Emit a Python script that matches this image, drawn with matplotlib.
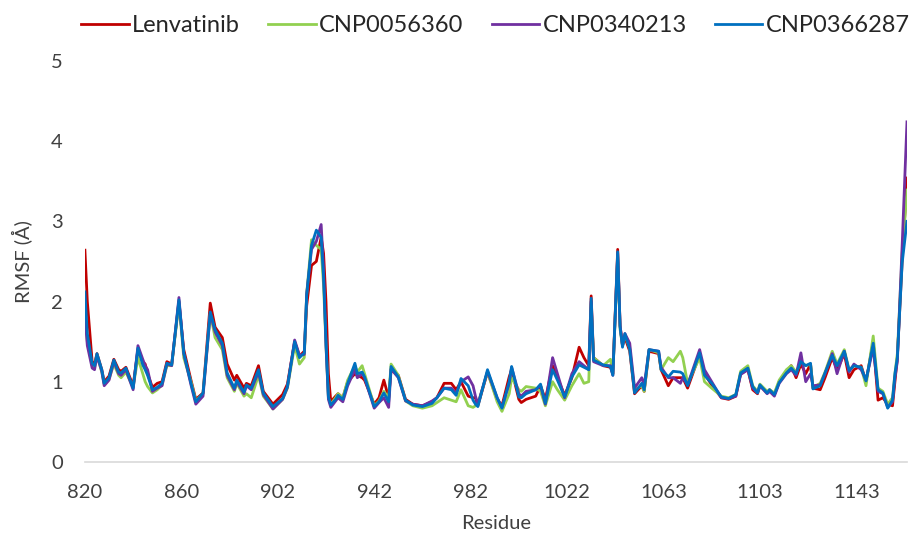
import matplotlib
matplotlib.use("Agg")
import matplotlib.pyplot as plt

plt.rcParams['font.family'] = ['Lato', 'DejaVu Sans']

# category positions (Excel line chart, one category per residue in the file)
n_cat = 342
tick_pos = [0, 40, 80, 120, 160, 200, 240, 280, 320]
tick_labels = ['820', '860', '902', '942', '982', '1022', '1063', '1103', '1143']

idx = [0, 1, 3, 4, 5, 7, 8, 10, 12, 14, 15, 17, 20, 22, 24, 25, 26, 28, 30, 32,
       34, 36, 39, 41, 44, 46, 49, 52, 54, 57, 59, 62, 63, 66, 67, 69, 72, 74, 78, 82,
       84, 87, 89, 91, 92, 94, 96, 98, 99, 100, 101, 102, 104, 105, 107, 109, 112, 113, 115, 116,
       120, 122, 124, 126, 127, 130, 133, 136, 140, 144, 146, 149, 152, 154, 156, 159, 161, 162, 163, 167,
       171, 173, 176, 177, 180, 181, 183, 187, 189, 191, 194, 196, 199, 202, 205, 207, 209, 210, 211, 215,
       218, 219, 221, 222, 223, 224, 226, 228, 231, 232, 234, 238, 239, 242, 244, 247, 248, 250, 255, 257,
       260, 264, 267, 270, 272, 275, 277, 279, 280, 283, 284, 286, 288, 291, 293, 295, 297, 299, 301, 302,
       305, 307, 310, 312, 315, 317, 319, 322, 324, 327, 329, 331, 333, 335, 336, 337, 339, 341]

lenvatinib = [2.64, 2.00, 1.25, 1.22, 1.35, 1.15, 1.00, 1.07, 1.28, 1.15, 1.13, 1.18, 0.95, 1.40, 1.25, 1.22, 1.10, 0.93, 0.98, 1.00,
              1.25, 1.22, 2.00, 1.40, 1.02, 0.78, 0.86, 1.98, 1.68, 1.55, 1.22, 1.02, 1.08, 0.92, 0.98, 0.95, 1.20, 0.88, 0.72, 0.84,
              0.97, 1.50, 1.32, 1.38, 1.95, 2.45, 2.50, 2.80, 2.60, 2.00, 1.10, 0.75, 0.82, 0.85, 0.80, 1.00, 1.10, 1.08, 1.05, 1.02,
              0.72, 0.80, 1.02, 0.80, 1.15, 1.08, 0.78, 0.72, 0.70, 0.75, 0.80, 0.98, 0.98, 0.90, 1.00, 0.82, 0.80, 0.80, 0.70, 1.12,
              0.78, 0.70, 1.06, 1.15, 0.78, 0.74, 0.78, 0.82, 0.95, 0.78, 1.20, 1.05, 0.83, 1.05, 1.43, 1.30, 1.20, 2.07, 1.30, 1.20,
              1.18, 1.10, 2.65, 1.70, 1.45, 1.55, 1.38, 0.85, 0.95, 0.88, 1.38, 1.35, 1.15, 0.95, 1.05, 1.05, 1.05, 0.92, 1.34, 1.10,
              0.96, 0.80, 0.78, 0.82, 1.10, 1.15, 0.90, 0.85, 0.95, 0.86, 0.90, 0.84, 1.00, 1.12, 1.20, 1.05, 1.22, 1.10, 1.22, 0.92,
              0.90, 1.05, 1.30, 1.15, 1.35, 1.05, 1.15, 1.20, 1.00, 1.50, 0.77, 0.80, 0.72, 0.70, 1.00, 1.30, 2.50, 3.54]

cnp0056360 = [1.87, 1.50, 1.20, 1.18, 1.33, 1.12, 0.97, 1.03, 1.22, 1.08, 1.05, 1.12, 0.93, 1.30, 1.10, 1.00, 0.94, 0.86, 0.90, 0.96,
              1.20, 1.20, 1.98, 1.30, 1.00, 0.76, 0.85, 1.85, 1.55, 1.40, 1.05, 0.88, 0.98, 0.82, 0.85, 0.80, 1.08, 0.82, 0.66, 0.78,
              0.92, 1.45, 1.22, 1.30, 2.10, 2.77, 2.70, 2.65, 2.20, 1.45, 0.80, 0.72, 0.80, 0.85, 0.80, 1.02, 1.20, 1.12, 1.20, 1.10,
              0.70, 0.76, 0.88, 0.80, 1.22, 1.08, 0.76, 0.70, 0.67, 0.70, 0.74, 0.80, 0.77, 0.75, 0.90, 0.70, 0.68, 0.70, 0.72, 1.12,
              0.75, 0.63, 0.85, 1.05, 0.90, 0.88, 0.94, 0.92, 0.88, 0.70, 1.00, 0.90, 0.77, 0.95, 1.10, 0.98, 1.00, 1.95, 1.30, 1.20,
              1.28, 1.10, 2.55, 1.65, 1.45, 1.58, 1.42, 0.90, 0.95, 0.88, 1.40, 1.36, 1.15, 1.30, 1.25, 1.38, 1.30, 0.98, 1.30, 1.00,
              0.92, 0.82, 0.80, 0.84, 1.13, 1.20, 0.95, 0.88, 0.97, 0.88, 0.90, 0.86, 1.02, 1.15, 1.20, 1.12, 1.25, 1.20, 1.22, 0.93,
              0.98, 1.12, 1.38, 1.22, 1.40, 1.15, 1.20, 1.18, 0.95, 1.57, 0.92, 0.88, 0.72, 0.80, 1.10, 1.35, 2.60, 3.39]

cnp0340213 = [1.83, 1.45, 1.17, 1.15, 1.32, 1.13, 0.95, 1.02, 1.25, 1.10, 1.08, 1.15, 0.90, 1.45, 1.28, 1.20, 1.15, 0.88, 0.92, 0.95,
              1.22, 1.20, 2.05, 1.35, 0.96, 0.72, 0.82, 1.85, 1.62, 1.45, 1.08, 0.90, 1.00, 0.85, 0.95, 0.90, 1.12, 0.84, 0.66, 0.78,
              0.93, 1.52, 1.33, 1.34, 2.10, 2.65, 2.75, 2.96, 2.40, 1.45, 0.78, 0.68, 0.76, 0.80, 0.75, 0.95, 1.15, 1.05, 1.10, 1.05,
              0.67, 0.74, 0.80, 0.68, 1.16, 1.05, 0.76, 0.72, 0.70, 0.76, 0.80, 0.92, 0.92, 0.86, 1.00, 1.06, 0.95, 0.82, 0.72, 1.13,
              0.80, 0.68, 0.98, 1.18, 0.85, 0.82, 0.88, 0.90, 0.95, 0.72, 1.30, 1.10, 0.80, 1.10, 1.25, 1.20, 1.15, 2.00, 1.25, 1.20,
              1.20, 1.08, 2.60, 1.70, 1.45, 1.60, 1.48, 0.92, 1.05, 0.95, 1.40, 1.38, 1.18, 1.05, 1.05, 0.98, 1.05, 0.96, 1.40, 1.15,
              1.00, 0.80, 0.79, 0.82, 1.09, 1.15, 0.92, 0.86, 0.95, 0.85, 0.88, 0.82, 0.98, 1.10, 1.15, 1.08, 1.36, 1.00, 1.10, 0.95,
              0.96, 1.10, 1.35, 1.10, 1.38, 1.12, 1.22, 1.15, 1.02, 1.42, 0.88, 0.85, 0.68, 0.75, 1.05, 1.25, 2.70, 4.24]

cnp0366287 = [2.12, 1.60, 1.23, 1.20, 1.35, 1.15, 0.98, 1.05, 1.27, 1.12, 1.11, 1.17, 0.92, 1.42, 1.21, 1.15, 1.08, 0.90, 0.93, 0.98,
              1.23, 1.21, 2.02, 1.36, 0.98, 0.75, 0.86, 1.87, 1.65, 1.48, 1.11, 0.92, 1.02, 0.87, 0.96, 0.92, 1.15, 0.86, 0.69, 0.79,
              0.94, 1.50, 1.30, 1.36, 2.08, 2.70, 2.89, 2.80, 2.30, 1.50, 0.81, 0.71, 0.78, 0.83, 0.78, 0.98, 1.23, 1.10, 1.12, 1.06,
              0.69, 0.75, 0.86, 0.75, 1.19, 1.06, 0.77, 0.71, 0.69, 0.73, 0.80, 0.92, 0.90, 0.83, 1.04, 0.95, 0.77, 0.72, 0.69, 1.15,
              0.80, 0.67, 1.00, 1.19, 0.81, 0.80, 0.85, 0.90, 0.97, 0.73, 1.15, 1.02, 0.81, 1.06, 1.21, 1.18, 1.15, 2.04, 1.27, 1.21,
              1.19, 1.08, 2.62, 1.68, 1.43, 1.60, 1.40, 0.86, 0.98, 0.90, 1.40, 1.38, 1.15, 1.06, 1.13, 1.12, 1.10, 0.95, 1.36, 1.08,
              0.98, 0.81, 0.79, 0.84, 1.11, 1.17, 0.94, 0.86, 0.96, 0.86, 0.90, 0.84, 0.99, 1.11, 1.17, 1.10, 1.25, 1.20, 1.23, 0.91,
              0.95, 1.11, 1.33, 1.20, 1.38, 1.14, 1.20, 1.18, 1.01, 1.48, 0.90, 0.86, 0.67, 0.77, 1.10, 1.30, 2.48, 3.00]

series = [('Lenvatinib', lenvatinib, '#C00000'),
          ('CNP0056360', cnp0056360, '#92D050'),
          ('CNP0340213', cnp0340213, '#7030A0'),
          ('CNP0366287', cnp0366287, '#0070C0')]

fig, ax = plt.subplots(figsize=(9.13, 5.39), dpi=100)
fig.subplots_adjust(left=0.093, right=0.9934, bottom=0.143, top=0.887)

for name, vals, col in series:
    ax.plot(idx, vals, color=col, lw=2.0, label=name, solid_joinstyle='round')

ax.set_xlim(0, n_cat - 1)
ax.set_ylim(0, 5)
ax.set_xticks(tick_pos)
ax.set_xticklabels(tick_labels)
ax.set_yticks([0, 1, 2, 3, 4, 5])
ax.tick_params(axis='both', length=0, labelsize=14.5, colors='#404040')
ax.tick_params(axis='x', pad=16)
ax.tick_params(axis='y', pad=16)

for s in ['top', 'right', 'left']:
    ax.spines[s].set_visible(False)
ax.spines['bottom'].set_color('#D9D9D9')
ax.spines['bottom'].set_linewidth(1.2)

ax.set_xlabel('Residue', fontsize=14.5, color='#404040')
ax.set_ylabel('RMSF (Å)', fontsize=14.5, color='#404040')
ax.xaxis.set_label_coords(0.5, -0.132)
ax.yaxis.set_label_coords(-0.064, 0.5)

fig.legend(loc='upper center', bbox_to_anchor=(0.543, 1.012), ncol=4, frameon=False,
           fontsize=17, handlelength=2.0, handletextpad=0.15, columnspacing=1.2,
           labelcolor='#262626')

fig.savefig('out.png', dpi=100)
